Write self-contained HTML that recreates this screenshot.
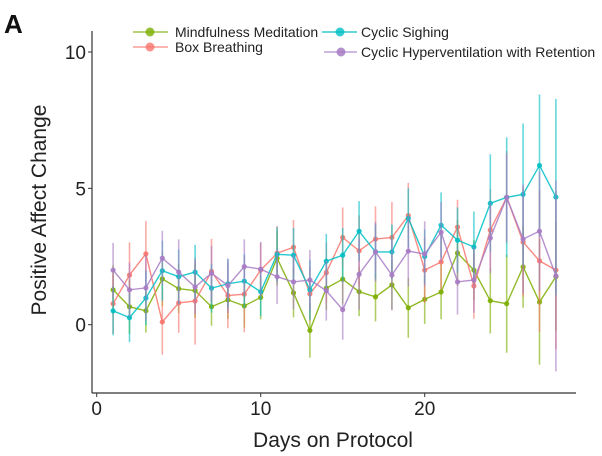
<!DOCTYPE html>
<html><head><meta charset="utf-8"><style>
body{margin:0;background:#fff;}
svg{display:block;font-family:"Liberation Sans",sans-serif;}
</style></head><body>
<svg id="chart" width="602" height="456" viewBox="0 0 602 456" xmlns="http://www.w3.org/2000/svg">
<text x="4" y="33" font-size="26" font-weight="bold" fill="#111">A</text>
<g>
 <g>
  <line x1="133" y1="32" x2="168" y2="32" stroke="#7CAE00" stroke-width="1.5" opacity="0.7"/>
  <circle cx="150" cy="32" r="4.5" fill="#7CAE00" opacity="0.8"/>
  <text x="175" y="37" font-size="14" fill="#222">Mindfulness Meditation</text>
 </g>
 <g>
  <line x1="133" y1="47" x2="168" y2="47" stroke="#F8766D" stroke-width="1.5" opacity="0.7"/>
  <circle cx="150" cy="47" r="4.5" fill="#F8766D" opacity="0.8"/>
  <text x="175" y="52" font-size="14" fill="#222">Box Breathing</text>
 </g>
 <g>
  <line x1="322" y1="32" x2="357" y2="32" stroke="#00BFC4" stroke-width="1.5" opacity="0.8"/>
  <circle cx="340" cy="32" r="4.5" fill="#00BFC4" opacity="0.8"/>
  <text x="361" y="37" font-size="14" fill="#222">Cyclic Sighing</text>
 </g>
 <g>
  <line x1="324" y1="52" x2="357" y2="52" stroke="#A77BC4" stroke-width="1.5" opacity="0.7"/>
  <circle cx="341" cy="52" r="4.5" fill="#A77BC4" opacity="0.85"/>
  <text x="361" y="57" font-size="14" fill="#222">Cyclic Hyperventilation with Retention</text>
 </g>
</g>
<g id="axes"></g>
<g id="marks"></g>
<text x="46" y="210" font-size="21" fill="#222" text-anchor="middle" transform="rotate(-90 46 210)">Positive Affect Change</text>
<text x="333" y="447" font-size="21" fill="#222" text-anchor="middle">Days on Protocol</text>
</svg>
<script>
const days = [1,2,3,4,5,6,7,8,9,10,11,12,13,14,15,16,17,18,19,20,21,22,23,24,25,26,27,28];
const seriesNames = ["Mindfulness Meditation","Box Breathing","Cyclic Sighing","Cyclic Hyperventilation with Retention"];
const mindfulness = [1.28,0.66,0.51,1.68,1.32,1.25,0.66,0.91,0.69,1.0,2.44,1.17,-0.21,1.34,1.67,1.21,1.02,1.46,0.62,0.93,1.2,2.63,2.0,0.88,0.77,2.12,0.83,1.76];
const boxBreathing = [0.77,1.82,2.6,0.1,0.8,0.87,1.95,1.07,1.12,2.0,2.62,2.84,1.13,1.91,3.2,2.71,3.14,3.2,4.0,2.0,2.3,3.58,1.42,3.47,4.67,3.03,2.34,2.0];
const cyclicSighing = [0.51,0.26,0.98,1.98,1.76,1.93,1.34,1.5,1.6,1.21,2.58,2.55,1.28,2.33,2.55,3.43,2.67,2.67,3.9,2.5,3.65,3.1,2.85,4.45,4.67,4.78,5.84,4.68];
const hyperventilation = [2.0,1.28,1.35,2.44,1.93,1.38,1.89,1.43,2.13,2.04,1.76,1.57,1.64,1.25,0.55,1.85,2.67,1.82,2.7,2.59,3.39,1.57,1.64,3.18,4.67,3.14,3.43,1.79];
const mindfulnessErr = [0.9,1.0,0.8,1.0,0.9,1.0,0.7,0.7,0.8,0.8,1.0,0.9,1.0,0.8,0.9,0.9,0.9,0.9,1.1,0.9,1.0,1.2,1.1,1.2,1.8,1.5,2.3,2.0];
const boxBreathingErr = [1.1,1.2,1.2,1.2,1.1,1.6,1.2,1.2,1.4,1.0,1.0,1.0,1.0,1.1,1.1,1.3,1.2,1.3,1.2,1.2,1.0,1.0,1.2,1.5,1.7,2.0,2.6,2.9];
const cyclicSighingErr = [0.9,0.9,1.0,1.1,1.0,1.0,0.9,0.9,1.0,0.9,1.0,1.0,1.1,1.0,1.0,1.1,1.0,1.0,1.1,1.0,1.2,1.2,1.3,1.8,2.2,2.6,2.6,3.6];
const hyperventilationErr = [1.0,1.0,1.2,1.0,1.2,1.0,1.0,1.0,1.0,1.0,1.0,1.0,1.1,1.1,1.1,1.3,1.1,1.3,1.3,1.2,1.1,1.2,1.2,1.3,1.6,2.0,2.2,3.5];
const xTicks = [0,10,20];
const yTicks = [0,5,10];

const NS = "http://www.w3.org/2000/svg";
const X0 = 96.7, XS = 16.4, Y0 = 324.7, YS = 27.27;
function xs(d){ return X0 + d*XS; }
function ys(v){ return Y0 - v*YS; }
function mk(tag, attrs, parent){ const e = document.createElementNS(NS, tag); for (const k in attrs) e.setAttribute(k, attrs[k]); parent.appendChild(e); return e; }

const axes = document.getElementById('axes');
const yAxis = mk('line', {x1:92, y1:31, x2:92, y2:393, stroke:'#333', 'stroke-width':1.2}, axes);


const xAxis = mk('line', {x1:92, y1:393, x2:576, y2:393, stroke:'#333', 'stroke-width':1.2}, axes);


yTicks.forEach(t => {
  mk('line', {x1:88, y1:ys(t), x2:92, y2:ys(t), stroke:'#333'}, axes);
  const tx = mk('text', {x:86, y:ys(t)+7, 'font-size':19, fill:'#222', 'text-anchor':'end'}, axes);
  tx.textContent = t;
  
  
});
xTicks.forEach(t => {
  mk('line', {x1:xs(t), y1:393, x2:xs(t), y2:397, stroke:'#333'}, axes);
  const tx = mk('text', {x:xs(t), y:415, 'font-size':19, fill:'#222', 'text-anchor':'middle'}, axes);
  tx.textContent = t;
  
  
});

const marks = document.getElementById('marks');
const series = [
  {vals: mindfulness, err: mindfulnessErr, color: '#7CAE00', key: 'mindfulness'},
  {vals: boxBreathing, err: boxBreathingErr, color: '#F8766D', key: 'box-breathing'},
  {vals: cyclicSighing, err: cyclicSighingErr, color: '#00BFC4', key: 'cyclic-sighing'},
  {vals: hyperventilation, err: hyperventilationErr, color: '#A77BC4', key: 'cyclic-hyperventilation'}
];
series.forEach(s => {
  const g = mk('g', {}, marks);
  
  
  days.forEach((d, i) => {
    const eb = mk('line', {x1:xs(d), x2:xs(d), y1:ys(s.vals[i]+s.err[i]), y2:ys(s.vals[i]-s.err[i]), stroke:s.color, 'stroke-width':1.6, opacity:0.6}, g);
    
    
  });
  const pts = days.map((d, i) => xs(d) + ',' + ys(s.vals[i])).join(' ');
  const pl = mk('polyline', {points: pts, fill:'none', stroke:s.color, 'stroke-width':1.4, opacity:0.85}, g);
  
  
  days.forEach((d, i) => {
    const c = mk('circle', {cx:xs(d), cy:ys(s.vals[i]), r:2.6, fill:s.color, opacity:0.9}, g);
    
    
  });
});
</script>
</body></html>
